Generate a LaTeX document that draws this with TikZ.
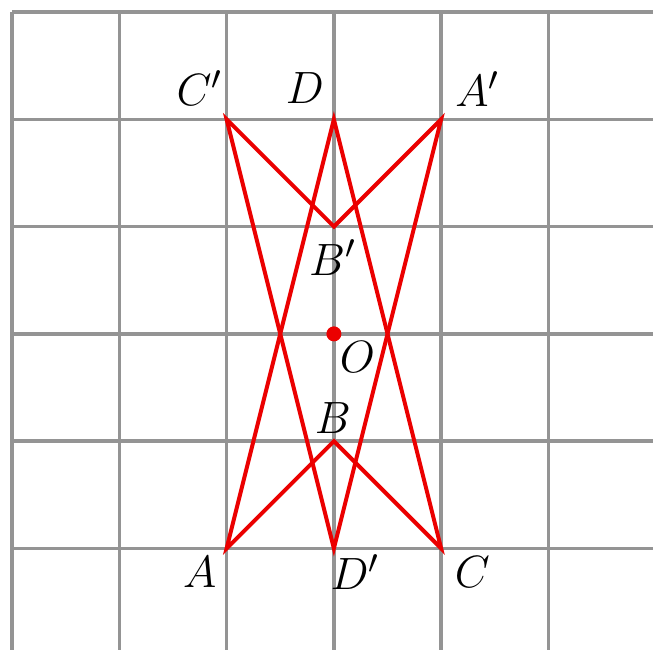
\documentclass[tikz,border=0pt]{standalone}
\begin{document}
\begin{tikzpicture}[x=1cm,y=1cm,
  gridline/.style={draw=black!42,line width=0.9pt},
  redline/.style={draw=red!92!black,line width=1.05pt,line join=miter},
  lab/.style={font=\fontsize{13}{15}\selectfont,inner sep=0pt}]
\useasboundingbox (-0.112,0.054) rectangle (5.974,6.112);
\fill[white] (-0.112,0.054) rectangle (5.974,6.112);
\draw[gridline] (0,0) grid (6,6);
\draw[gridline,line width=1.1pt] (0,6.0) -- (6,6);
\draw[gridline,line width=1.1pt] (0,0) -- (0,6);
\coordinate (A) at (2,1);
\coordinate (B) at (3,2);
\coordinate (C) at (4,1);
\coordinate (D) at (3,5);
\coordinate (A1) at (4,5);
\coordinate (B1) at (3,4);
\coordinate (C1) at (2,5);
\coordinate (D1) at (3,1);
\coordinate (O) at (3,3);
\draw[redline] (A) -- (B) -- (C) -- (D) -- cycle;
\draw[redline] (A1) -- (B1) -- (C1) -- (D1) -- cycle;
\fill[red!92!black] (O) circle (0.07);
\node[lab] (lC1) at (1.75,5.29) {$C'$};
\node[lab] (lD) at (2.73,5.29) {$D$};
\node[lab] (lA1) at (4.34,5.28) {$A'$};
\node[lab] (lB1) at (2.99,3.71) {$B'$};
\node[lab] (lO) at (3.22,2.78) {$O$};
\node[lab] (lB) at (2.99,2.22) {$B$};
\node[lab] (lA) at (1.75,0.78) {$A$};
\node[lab] (lD1) at (3.2,0.78) {$D'$};
\node[lab] (lC) at (4.29,0.78) {$C$};
\end{tikzpicture}
\end{document}
